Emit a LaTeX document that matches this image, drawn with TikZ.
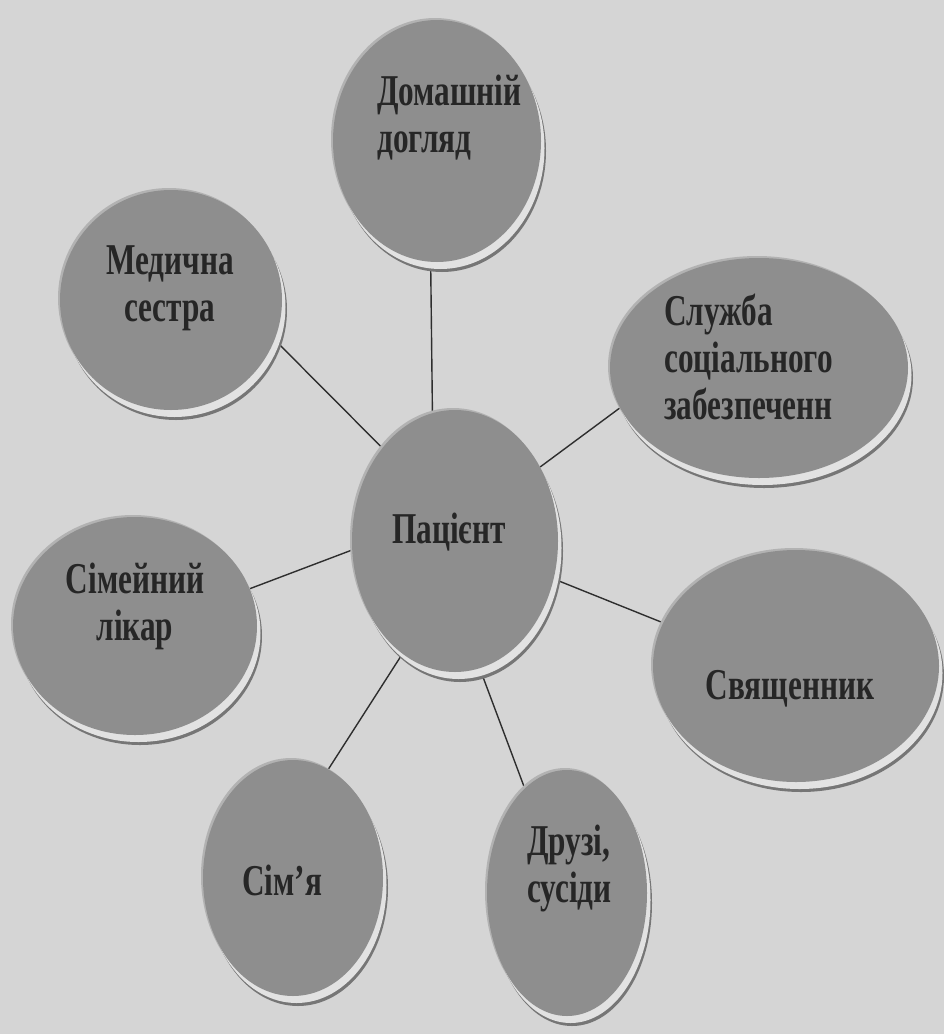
\documentclass[tikz,border=0pt]{standalone}
\usepackage{fontspec}
\setmainfont{Liberation Serif}[FakeStretch=0.71]
\usetikzlibrary{shapes.geometric,shadows}
\definecolor{pagebg}{HTML}{D5D5D5}
\definecolor{bodygray}{HTML}{8E8E8E}
\definecolor{rimlight}{HTML}{E2E2E2}
\definecolor{rimdark}{HTML}{767676}
\definecolor{halo}{HTML}{B2B2B2}
\definecolor{txt}{HTML}{262626}
\definecolor{linec}{HTML}{2E2E2E}
\pgfdeclarelayer{bgl}
\pgfdeclarelayer{links}
\pgfsetlayers{bgl,links,main}
\begin{document}
\begin{tikzpicture}[x=1pt,y=-1pt,
  blob/.style={ellipse, inner sep=0pt, fill=bodygray, draw=none,
    general shadow={fill=halo, shadow xshift=-2pt, shadow yshift=2pt},
    general shadow={fill=rimdark, shadow xshift=5pt, shadow yshift=-10pt},
    general shadow={fill=rimlight, shadow xshift=3.5pt, shadow yshift=-7pt}},
  lbl/.style={inner sep=0pt, font=\fontsize{44}{47}\selectfont\bfseries, text=txt},
  link/.style={draw=linec, line width=1.4pt}]
\begin{pgfonlayer}{bgl}
\fill[pagebg] (0,0) rectangle (944,1034);
\end{pgfonlayer}
\useasboundingbox (0,0) rectangle (944,1034);

\node[blob, minimum width=208pt, minimum height=242pt] (D) at (437,141) {};
\node[blob, minimum width=222pt, minimum height=220pt] (M) at (171,300) {};
\node[blob, minimum width=298pt, minimum height=220pt] (S) at (759,368) {};
\node[blob, minimum width=206pt, minimum height=262pt] (P) at (455,541) {};
\node[blob, minimum width=244pt, minimum height=218pt] (L) at (135,626) {};
\node[blob, minimum width=286pt, minimum height=232pt] (V) at (796,666) {};
\node[blob, minimum width=180pt, minimum height=236pt] (F) at (293,878) {};
\node[blob, minimum width=160pt, minimum height=246pt] (N) at (567,893) {};

\node[lbl, anchor=west, align=left] (tD) at (377,118) {Домашній\\догляд};
\node[lbl, align=center] (tM) at (170,288) {Медична\\сестра};
\node[lbl, anchor=west, align=left] (tS) at (664,357) {Служба\\соціального\\забезпеченн};
\node[lbl] (tP) at (449,532) {Пацієнт};
\node[lbl, align=center] (tL) at (135,606) {Сімейний\\лікар};
\node[lbl] (tV) at (790,689) {Священник};
\node[lbl] (tF) at (282,880) {Сім’я};
\node[lbl, anchor=west, align=left] (tN) at (527,868) {Друзі,\\сусіди};

\begin{pgfonlayer}{links}
\draw[link] (P.100.8) -- (D.267.7);
\draw[link] (P.128.7) -- (M.-21.6);
\draw[link] (P.41.6) -- (S.196.8);
\draw[link] (P.185.8) -- (L.18.2);
\draw[link] (P.-21.8) -- (V.162.7);
\draw[link] (P.245.3) -- (F.72.8);
\draw[link] (P.281.6) -- (N.112.1);
\end{pgfonlayer}
\end{tikzpicture}
\end{document}
